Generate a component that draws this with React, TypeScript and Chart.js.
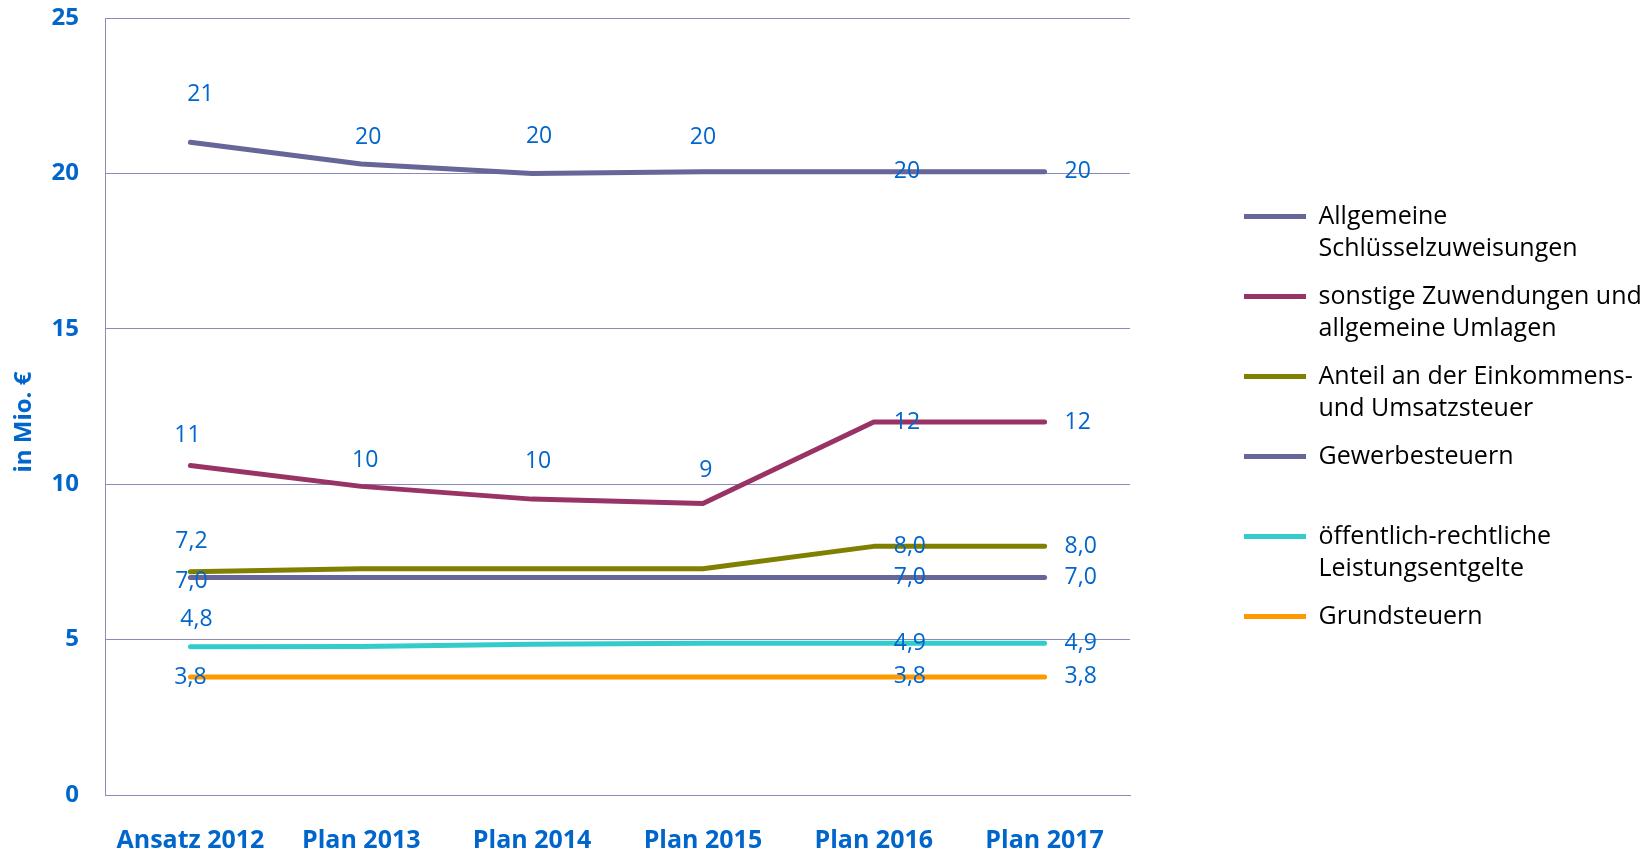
import React, { useEffect, useRef } from 'react';
import { Chart, registerables } from 'chart.js';

Chart.register(...registerables);

// ---- data ----
const categories = ['Ansatz 2012', 'Plan 2013', 'Plan 2014', 'Plan 2015', 'Plan 2016', 'Plan 2017'];

const schluesselzuweisungen = [21.0, 20.3, 20.0, 20.05, 20.05, 20.05];
const sonstigeZuwendungen = [10.6, 9.93, 9.52, 9.38, 12.0, 12.0];
const einkommensteuerAnteil = [7.18, 7.28, 7.28, 7.28, 8.0, 8.0];
const gewerbesteuern = [7.0, 7.0, 7.0, 7.0, 7.0, 7.0];
const leistungsentgelte = [4.77, 4.78, 4.85, 4.88, 4.88, 4.88];
const grundsteuern = [3.8, 3.8, 3.8, 3.8, 3.8, 3.8];

const yTicks = [0, 5, 10, 15, 20, 25];

const seriesNames = [
  'Allgemeine\nSchlüsselzuweisungen',
  'sonstige Zuwendungen und\nallgemeine Umlagen',
  'Anteil an der Einkommens-\nund Umsatzsteuer',
  'Gewerbesteuern\n',
  'öffentlich-rechtliche\nLeistungsentgelte',
  'Grundsteuern\n',
];

const yAxisTitle = 'in Mio. €';

// ---- styles ----
const seriesColors = ['#666699', '#993366', '#808000', '#666699', '#33CCCC', '#FF9900'];
const labelDecimals = [0, 0, 1, 1, 1, 1];
const BLUE = '#0066CC';
const GRID = '#8A8ABD';

// label placement per series / point: [dx, dy] centered, 'R' = right of point, null = none
type Place = [number, number] | 'R' | null;
const labelPlacements: Place[][] = [
  [[10, -48], [7, -27], [7, -37], [0, -34], 'R', 'R'],
  [[-3, -30], [4, -26], [6, -38], [3, -33], 'R', 'R'],
  [[1, -30], null, null, null, 'R', 'R'],
  [[1, 4], null, null, null, 'R', 'R'],
  [[6, -27], null, null, null, 'R', 'R'],
  [[0, 1], null, null, null, 'R', 'R'],
];

const seriesData = [
  schluesselzuweisungen,
  sonstigeZuwendungen,
  einkommensteuerAnteil,
  gewerbesteuern,
  leistungsentgelte,
  grundsteuern,
];

const fmt = (v: number, d: number) => v.toFixed(d).replace('.', ',');

const pointLabelPlugin = {
  id: 'pointLabels',
  afterDatasetsDraw(chart: any) {
    const ctx = chart.ctx;
    ctx.save();
    ctx.font = '23px "Open Sans"';
    ctx.fillStyle = BLUE;
    ctx.textBaseline = 'middle';
    chart.data.datasets.forEach((ds: any, i: number) => {
      const meta = chart.getDatasetMeta(i);
      const places = labelPlacements[i];
      meta.data.forEach((pt: any, j: number) => {
        const p = places[j];
        if (!p) return;
        const text = fmt(ds.data[j], labelDecimals[i]);
        if (p === 'R') {
          ctx.textAlign = 'left';
          ctx.fillText(text, pt.x + 20, pt.y);
        } else {
          ctx.textAlign = 'center';
          ctx.fillText(text, pt.x + p[0], pt.y + p[1]);
        }
      });
    });
    ctx.restore();
  },
};

export default function App() {
  const ref = useRef<HTMLCanvasElement>(null);

  useEffect(() => {
    if (!ref.current) return;
    const chart = new Chart(ref.current, {
      type: 'line',
      data: {
        labels: categories,
        datasets: seriesData.map((d, i) => ({
          label: seriesNames[i],
          data: d,
          borderColor: seriesColors[i],
          backgroundColor: seriesColors[i],
          borderWidth: 5,
          borderCapStyle: 'round',
          borderJoinStyle: 'round',
          pointRadius: 0,
          pointHoverRadius: 0,
          tension: 0,
          fill: false,
          yAxisID: 'y',
        })),
      },
      options: {
        responsive: false,
        animation: false,
        devicePixelRatio: 1,
        layout: { padding: { top: 18, left: 0, right: 0, bottom: 0 } },
        plugins: {
          tooltip: { enabled: false },
          legend: {
            display: true,
            position: 'right',
            align: 'center',
            maxWidth: 422,
            labels: {
              usePointStyle: true,
              pointStyle: 'line',
              pointStyleWidth: 62,
              padding: 15,
              color: '#000000',
              font: { family: '"Open Sans"', size: 25, lineHeight: 1.3 },
              generateLabels: (c: any) =>
                (Chart.defaults.plugins.legend.labels as any)
                  .generateLabels(c)
                  .map((it: any) => ({ ...it, text: String(it.text).split('\n') })),
            },
          },
        },
        scales: {
          x: {
            offset: true,
            grid: { display: false, drawTicks: false },
            border: { display: true, color: GRID, width: 1 },
            ticks: {
              color: BLUE,
              padding: 31,
              maxRotation: 0,
              autoSkip: false,
              font: { family: '"Open Sans"', size: 25, weight: 'bold' },
            },
            afterFit: (s: any) => {
              s.height = 60;
            },
          },
          y: {
            position: 'left',
            min: 0,
            max: 25,
            afterBuildTicks: (s: any) => {
              s.ticks = yTicks.map((v) => ({ value: v }));
            },
            grid: {
              display: true,
              color: GRID,
              lineWidth: 1,
              drawTicks: true,
              tickLength: 26,
              tickColor: 'rgba(0,0,0,0)',
            },
            border: { display: true, color: GRID, width: 1 },
            ticks: {
              color: BLUE,
              padding: 0,
              font: { family: '"Open Sans"', size: 24, weight: 'bold' },
            },
            title: {
              display: true,
              text: yAxisTitle + '     ',
              color: BLUE,
              padding: { top: 10, bottom: 0 },
              font: { family: '"Open Sans"', size: 24, weight: 'bold' },
            },
            afterFit: (s: any) => {
              s.width = 105;
            },
          },
          padRight: {
            type: 'linear',
            position: 'right',
            display: true,
            grid: { display: false, drawTicks: false },
            border: { display: false },
            ticks: { display: false },
            afterFit: (s: any) => {
              s.width = 99;
            },
          },
        },
      } as any,
      plugins: [pointLabelPlugin],
    });
    return () => chart.destroy();
  }, []);

  return (
    <div style={{ position: 'absolute', left: 0, top: 0, width: 1651, height: 855, background: '#ffffff' }}>
      <canvas ref={ref} width={1651} height={855} style={{ display: 'block' }} />
    </div>
  );
}
